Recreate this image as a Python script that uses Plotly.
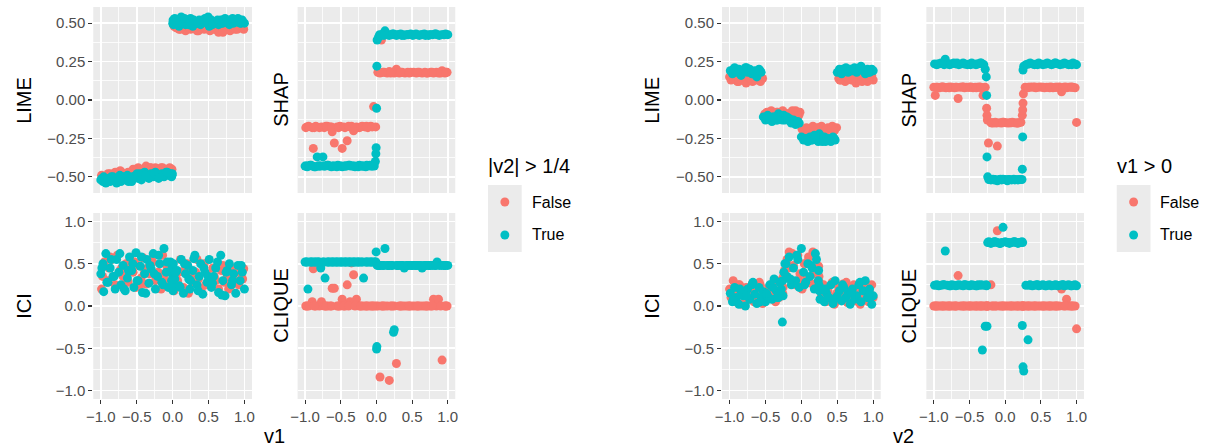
import plotly.graph_objects as go

W, H = 1211, 446
RED, BLUE = "#F8766D", "#00BFC4"

# ---------------- left block: x = v1, colour = |v2| > 1/4 ----------------
v1_f = [-0.99,-0.95,-0.90,-0.885,-0.85,-0.80,-0.77,-0.73,-0.69,-0.65,
        -0.62,-0.59,-0.55,-0.51,-0.48,-0.44,-0.41,-0.37,-0.35,-0.32,
        -0.28,-0.24,-0.20,-0.16,-0.12,-0.08,-0.04,-0.01,0.02,0.05,
        0.07,0.11,0.15,0.18,0.22,0.25,0.28,0.32,0.36,0.40,
        0.44,0.48,0.52,0.56,0.60,0.64,0.68,0.72,0.76,0.80,
        0.84,0.87,0.92,0.96,0.99,
        -0.975,-0.87,-0.71,-0.63,-0.53,-0.46,-0.39,-0.30,-0.22,-0.14,
        -0.06,0.09,0.20,0.34,0.46,0.58,0.70,0.78,0.90,0.975]
lime1_f = [-0.49,-0.50,-0.48,-0.51,-0.49,-0.47,-0.49,-0.46,-0.48,-0.50,
           -0.47,-0.49,-0.45,-0.47,-0.44,-0.46,-0.45,-0.43,-0.46,-0.44,
           -0.45,-0.44,-0.46,-0.44,-0.45,-0.46,-0.44,-0.45,0.48,0.47,
           0.49,0.46,0.48,0.45,0.47,0.46,0.48,0.47,0.45,0.48,
           0.46,0.47,0.45,0.48,0.46,0.44,0.47,0.46,0.48,0.45,
           0.47,0.46,0.48,0.47,0.46,
           -0.50,-0.48,-0.47,-0.49,-0.46,-0.45,-0.47,-0.44,-0.45,-0.44,
           -0.45,0.46,0.48,0.45,0.47,0.46,0.44,0.48,0.46,0.47]
shap1_f = [-0.18,-0.17,-0.18,-0.315,-0.17,-0.18,-0.175,-0.18,-0.17,-0.175,
           -0.207,-0.28,-0.175,-0.17,-0.315,-0.18,-0.265,-0.175,-0.17,-0.20,
           -0.175,-0.18,-0.17,-0.175,-0.18,-0.17,-0.043,-0.175,0.18,0.175,
           0.39,0.18,0.175,0.185,0.18,0.175,0.20,0.175,0.18,0.175,
           0.18,0.18,0.18,0.175,0.18,0.175,0.18,0.175,0.18,0.175,
           0.18,0.175,0.19,0.175,0.18,
           -0.175,-0.18,-0.17,-0.175,-0.18,-0.175,-0.17,-0.18,-0.175,-0.17,
           -0.175,0.18,0.175,0.18,0.175,0.18,0.175,0.18,0.175,0.18]
ici1_f = [0.20,0.52,0.30,0.45,0.55,0.25,0.60,0.42,0.35,0.50,
          0.28,0.55,0.40,0.22,0.48,0.33,0.57,0.26,0.45,0.38,
          0.52,0.30,0.40,0.20,0.35,0.47,0.25,0.42,0.18,0.38,
          0.30,0.55,0.22,0.45,0.15,0.35,0.28,0.40,0.32,0.20,
          0.50,0.38,0.25,0.45,0.30,0.20,0.42,0.28,0.35,0.22,
          0.45,0.30,0.25,0.38,0.44,
          0.35,0.58,0.45,0.30,0.52,0.25,0.40,0.55,0.32,0.60,
          0.28,0.40,0.50,0.55,0.25,0.35,0.48,0.20,0.40,0.32]
clique1_f = [0.0,0.0,0.05,0.44,0.0,0.0,0.05,0.0,0.0,0.0,
             0.21,0.21,0.0,0.0,0.08,0.0,0.25,0.05,0.51,0.37,
             0.08,0.0,0.0,0.0,0.0,0.0,0.0,0.0,0.0,-0.84,
             0.0,0.0,0.0,-0.88,0.0,0.0,-0.68,0.0,0.0,0.0,
             0.0,0.0,0.0,0.0,0.0,0.0,0.0,0.0,0.0,0.08,
             0.0,0.08,-0.64,0.0,0.0,
             0.0,0.0,0.0,0.0,0.0,0.0,0.0,0.0,0.0,0.0,
             0.0,0.0,0.0,0.0,0.0,0.0,0.0,0.0,0.0,0.0]

v1_t = [-1.00,-0.97,-0.96,-0.93,-0.90,-0.87,-0.83,-0.80,-0.78,-0.75,
        -0.72,-0.69,-0.66,-0.63,-0.60,-0.57,-0.54,-0.51,-0.48,-0.45,
        -0.42,-0.39,-0.36,-0.33,-0.30,-0.27,-0.24,-0.21,-0.18,-0.15,
        -0.12,-0.09,-0.06,-0.03,-0.015,-0.008,-0.004,0.002,0.006,0.01,
        0.03,0.06,0.09,0.12,0.15,0.18,0.21,0.24,0.25,0.28,
        0.31,0.34,0.37,0.39,0.42,0.45,0.48,0.51,0.54,0.57,
        0.60,0.64,0.67,0.70,0.73,0.76,0.79,0.82,0.85,0.88,
        0.91,0.94,0.97,1.00,
        -0.985,-0.915,-0.855,-0.815,-0.735,-0.675,-0.615,-0.555,-0.495,-0.435,
        -0.375,-0.315,-0.255,-0.195,-0.135,-0.075,0.045,0.105,0.165,0.225,
        0.295,0.355,0.435,0.495,0.555,0.625,0.685,0.745,0.835,0.955]
lime1_t = [-0.52,-0.53,-0.50,-0.54,-0.51,-0.53,-0.50,-0.52,-0.54,-0.51,
           -0.53,-0.50,-0.52,-0.49,-0.51,-0.53,-0.50,-0.49,-0.51,-0.48,
           -0.50,-0.47,-0.49,-0.51,-0.48,-0.50,-0.47,-0.49,-0.50,-0.48,
           -0.50,-0.47,-0.49,-0.48,-0.50,-0.49,-0.48,0.50,0.52,0.49,
           0.53,0.50,0.48,0.54,0.51,0.49,0.52,0.50,0.53,0.48,
           0.51,0.50,0.52,0.49,0.51,0.53,0.50,0.48,0.52,0.50,
           0.51,0.49,0.52,0.50,0.53,0.51,0.49,0.52,0.50,0.51,
           0.53,0.50,0.52,0.50,
           -0.51,-0.53,-0.50,-0.52,-0.49,-0.51,-0.53,-0.50,-0.48,-0.52,
           -0.49,-0.50,-0.48,-0.51,-0.49,-0.47,0.51,0.50,0.53,0.49,
           0.52,0.50,0.51,0.54,0.49,0.52,0.50,0.51,0.53,0.50]
shap1_t = [-0.43,-0.435,-0.43,-0.425,-0.43,-0.435,-0.37,-0.43,-0.43,-0.37,
           -0.43,-0.425,-0.43,-0.435,-0.43,-0.43,-0.425,-0.43,-0.435,-0.43,
           -0.43,-0.425,-0.43,-0.43,-0.435,-0.43,-0.425,-0.43,-0.43,-0.435,
           -0.43,-0.425,-0.43,-0.43,-0.40,-0.35,-0.31,-0.054,0.22,0.39,
           0.41,0.42,0.43,0.45,0.425,0.42,0.425,0.43,0.425,0.42,
           0.425,0.43,0.425,0.42,0.425,0.425,0.43,0.42,0.425,0.425,
           0.42,0.425,0.43,0.425,0.42,0.425,0.425,0.43,0.425,0.42,
           0.425,0.425,0.43,0.425,
           -0.43,-0.425,-0.435,-0.43,-0.43,-0.425,-0.43,-0.435,-0.43,-0.43,
           -0.425,-0.43,-0.435,-0.43,-0.425,-0.43,0.425,0.42,0.425,0.43,
           0.425,0.42,0.425,0.425,0.43,0.425,0.42,0.425,0.43,0.425]
ici1_t = [0.38,0.50,0.17,0.62,0.28,0.45,0.35,0.20,0.55,0.40,
          0.25,0.48,0.18,0.33,0.58,0.42,0.22,0.63,0.30,0.47,
          0.16,0.38,0.55,0.27,0.44,0.62,0.20,0.35,0.50,0.28,
          0.68,0.40,0.22,0.52,0.30,0.45,0.26,0.36,0.18,0.50,
          0.32,0.42,0.24,0.55,0.15,0.38,0.48,0.20,0.30,0.42,
          0.60,0.25,0.35,0.50,0.14,0.40,0.28,0.55,0.22,0.35,
          0.45,0.16,0.60,0.30,0.12,0.42,0.50,0.25,0.38,0.15,
          0.48,0.30,0.40,0.20,
          0.45,0.28,0.55,0.35,0.62,0.20,0.42,0.50,0.30,0.58,
          0.15,0.48,0.38,0.60,0.25,0.52,0.40,0.22,0.50,0.32,
          0.56,0.18,0.45,0.35,0.27,0.52,0.13,0.40,0.30,0.48]
clique1_t = [0.52,0.52,0.20,0.52,0.52,0.52,0.52,0.52,0.45,0.52,
             0.33,0.52,0.52,0.52,0.52,0.52,0.52,0.52,0.52,0.52,
             0.52,0.52,0.52,0.52,0.52,0.52,0.52,0.52,0.33,0.52,
             0.52,0.52,0.52,0.52,0.52,0.52,0.64,-0.51,-0.48,0.48,
             0.48,0.48,0.48,0.68,0.48,0.48,0.48,-0.31,-0.28,0.48,
             0.48,0.48,0.48,0.45,0.48,0.48,0.48,0.48,0.48,0.48,
             0.48,0.45,0.48,0.48,0.48,0.48,0.48,0.48,0.52,0.48,
             0.48,0.48,0.48,0.48,
             0.52,0.52,0.52,0.52,0.52,0.52,0.52,0.52,0.52,0.52,
             0.52,0.52,0.52,0.52,0.52,0.52,0.48,0.48,0.48,0.48,
             0.48,0.48,0.48,0.48,0.48,0.48,0.48,0.48,0.48,0.48]

# ---------------- right block: x = v2, colour = v1 > 0 ----------------
v2_f = [-1.00,-0.98,-0.95,-0.92,-0.89,-0.86,-0.83,-0.80,-0.77,-0.74,
        -0.71,-0.68,-0.66,-0.63,-0.60,-0.57,-0.54,-0.51,-0.48,-0.45,
        -0.42,-0.39,-0.36,-0.33,-0.31,-0.28,-0.26,-0.255,-0.25,-0.235,
        -0.20,-0.17,-0.14,-0.11,-0.08,-0.05,-0.02,0.01,0.04,0.07,
        0.10,0.13,0.16,0.19,0.22,0.24,0.245,0.25,0.255,0.28,
        0.31,0.34,0.37,0.40,0.43,0.46,0.49,0.52,0.55,0.58,
        0.61,0.64,0.67,0.70,0.73,0.76,0.79,0.82,0.86,0.89,
        0.92,0.95,0.98,1.00,
        -0.965,-0.875,-0.785,-0.695,-0.585,-0.495,-0.405,-0.345,-0.185,-0.125,
        -0.035,0.085,0.175,0.325,0.415,0.535,0.625,0.715,0.845,0.935]
lime2_f = [0.15,0.13,0.16,0.14,0.12,0.15,0.17,0.13,0.11,0.15,
           0.14,0.12,0.16,0.13,0.15,0.12,0.14,-0.09,-0.08,-0.10,
           -0.07,-0.09,-0.11,-0.08,-0.10,-0.09,-0.07,-0.10,-0.08,-0.11,
           -0.09,-0.10,-0.08,-0.09,-0.07,-0.10,-0.08,-0.19,-0.20,-0.18,
           -0.21,-0.19,-0.17,-0.20,-0.18,-0.19,-0.21,-0.18,-0.20,-0.17,
           -0.19,-0.20,-0.18,-0.19,-0.17,-0.20,-0.18,0.14,0.13,0.15,
           0.12,0.16,0.14,0.13,0.15,0.11,0.14,0.16,0.13,0.15,
           0.12,0.14,0.16,0.13,
           0.14,0.12,0.16,0.13,0.15,-0.09,-0.10,-0.08,-0.09,-0.07,
           -0.10,-0.19,-0.18,-0.20,-0.19,0.13,0.15,0.14,0.12,0.15]
shap2_f = [0.083,0.03,0.083,0.08,0.085,0.083,0.08,0.083,0.085,0.083,
           0.08,0.083,0.01,0.083,0.085,0.08,0.083,0.083,0.085,0.08,
           0.083,0.083,0.085,0.08,0.03,0.083,-0.054,-0.10,-0.13,-0.28,
           -0.148,-0.15,-0.145,-0.30,-0.148,-0.15,-0.145,-0.148,-0.15,-0.148,
           -0.145,-0.148,-0.15,-0.148,-0.145,-0.10,-0.065,-0.02,0.04,0.083,
           0.08,0.083,0.085,0.083,0.08,0.083,0.085,0.083,0.08,0.083,
           0.083,0.085,0.08,0.083,0.083,0.085,0.054,0.083,0.08,0.083,
           0.085,0.083,0.08,-0.146,
           0.083,0.085,0.08,0.083,0.085,0.083,0.08,0.083,-0.148,-0.15,
           -0.145,-0.148,-0.15,0.083,0.085,0.083,0.08,0.083,0.085,0.083]
ici2_f = [0.20,0.10,0.30,0.05,0.18,0.25,0.02,0.12,0.22,0.08,
          0.15,0.27,0.05,0.20,0.10,0.24,0.03,0.16,0.08,0.22,
          0.12,0.28,0.05,0.18,0.10,0.30,0.15,0.22,0.35,0.42,
          0.55,0.64,0.30,0.48,0.25,0.60,0.38,0.20,0.50,0.32,
          0.58,0.27,0.64,0.40,0.22,0.47,0.35,0.28,0.20,0.12,
          0.25,0.05,0.18,0.10,0.28,0.02,0.15,0.22,0.08,0.26,
          0.12,0.04,0.20,0.10,0.25,0.06,0.18,0.02,0.14,0.22,
          0.08,0.16,0.25,0.10,
          0.12,0.25,0.05,0.18,0.28,0.10,0.20,0.30,0.45,0.62,
          0.30,0.52,0.38,0.15,0.05,0.22,0.28,0.10,0.20,0.05]
clique2_f = [0.0,0.0,0.0,0.0,0.0,0.0,0.0,0.0,0.0,0.0,
             0.0,0.0,0.36,0.0,0.0,0.0,0.0,0.0,0.0,0.0,
             0.0,0.0,0.0,0.0,0.0,0.0,0.0,0.0,0.0,0.0,
             0.25,0.0,0.0,0.89,0.0,0.0,0.0,0.0,0.0,0.0,
             0.0,0.0,0.0,0.0,0.0,0.0,0.0,0.0,0.0,0.0,
             0.0,0.0,0.0,0.0,0.0,0.0,0.0,0.0,0.0,0.0,
             0.0,0.0,0.0,0.0,0.0,0.0,0.20,0.0,0.08,0.0,
             0.0,0.0,0.0,-0.27,
             0.0,0.0,0.0,0.0,0.0,0.0,0.0,0.0,0.0,0.0,
             0.0,0.0,0.0,0.0,0.0,0.0,0.0,0.0,0.0,0.0]

v2_t = [-0.99,-0.96,-0.93,-0.90,-0.87,-0.84,-0.81,-0.78,-0.75,-0.72,
        -0.69,-0.65,-0.62,-0.59,-0.56,-0.53,-0.50,-0.47,-0.44,-0.41,
        -0.38,-0.35,-0.32,-0.30,-0.28,-0.265,-0.26,-0.255,-0.245,-0.23,
        -0.20,-0.17,-0.14,-0.11,-0.08,-0.05,-0.03,0.00,0.03,0.06,
        0.09,0.12,0.15,0.18,0.21,0.235,0.24,0.245,0.25,0.26,
        0.29,0.32,0.35,0.38,0.41,0.44,0.47,0.50,0.53,0.56,
        0.59,0.62,0.65,0.68,0.71,0.74,0.77,0.80,0.83,0.86,
        0.89,0.92,0.95,0.98,1.00,
        -0.945,-0.855,-0.765,-0.675,-0.575,-0.485,-0.395,-0.335,-0.215,-0.155,
        -0.065,0.045,0.135,0.195,0.335,0.455,0.575,0.695,0.815,0.935]
lime2_t = [0.19,0.17,0.21,0.18,0.20,0.16,0.19,0.21,0.18,0.20,
           0.17,0.19,0.15,0.20,0.18,-0.11,-0.13,-0.10,-0.12,-0.14,
           -0.11,-0.13,-0.09,-0.12,-0.10,-0.13,-0.11,-0.12,-0.10,-0.13,
           -0.11,-0.12,-0.15,-0.13,-0.16,-0.14,-0.15,-0.24,-0.26,-0.25,
           -0.27,-0.24,-0.26,-0.23,-0.25,-0.27,-0.24,-0.26,-0.22,-0.25,
           -0.27,-0.24,-0.26,-0.25,-0.27,-0.24,-0.26,0.18,0.20,0.17,
           0.19,0.21,0.18,0.20,0.19,0.21,0.18,0.20,0.22,0.19,
           0.17,0.20,0.18,0.20,0.19,
           0.20,0.18,0.21,0.17,0.19,-0.12,-0.11,-0.13,-0.12,-0.14,
           -0.15,-0.25,-0.26,-0.24,-0.27,-0.25,0.20,0.19,0.21,0.18]
shap2_t = [0.235,0.23,0.235,0.24,0.235,0.265,0.235,0.23,0.235,0.24,
           0.235,0.23,0.235,0.24,0.235,0.23,0.235,0.24,0.235,0.23,
           0.235,0.24,0.235,0.23,0.20,0.15,0.03,-0.37,-0.50,-0.517,
           -0.52,-0.515,-0.517,-0.525,-0.517,-0.52,-0.515,-0.517,-0.525,-0.517,
           -0.52,-0.515,-0.517,-0.52,-0.517,-0.517,-0.45,-0.24,0.195,0.22,
           0.23,0.235,0.24,0.235,0.23,0.235,0.24,0.235,0.23,0.235,
           0.24,0.235,0.23,0.235,0.24,0.235,0.23,0.235,0.24,0.235,
           0.23,0.235,0.24,0.235,0.23,
           0.235,0.23,0.235,0.24,0.235,0.23,0.235,0.24,-0.517,-0.52,
           -0.515,-0.517,-0.52,-0.517,0.235,0.23,0.235,0.24,0.235,0.23]
ici2_t = [0.15,0.05,0.22,0.10,0.02,0.18,0.12,0.00,0.20,0.08,
          0.25,0.14,0.03,0.22,0.10,0.17,0.05,0.12,0.25,0.08,
          0.32,0.18,0.10,0.28,0.20,-0.19,0.30,0.12,0.40,0.50,
          0.35,0.58,0.25,0.45,0.30,0.55,0.22,0.68,0.40,0.28,
          0.50,0.35,0.45,0.20,0.55,0.30,0.42,0.25,0.18,0.08,
          0.20,0.05,0.15,0.10,0.25,0.03,0.30,0.12,0.18,0.06,
          0.22,0.10,0.15,0.02,0.20,0.08,0.12,0.25,0.05,0.18,
          0.30,0.10,0.20,0.02,0.12,
          0.08,0.20,0.12,0.28,0.05,0.15,0.22,0.10,0.50,0.32,
          0.60,0.25,0.48,0.62,0.20,0.08,0.25,0.15,0.28,0.10]
clique2_t = [0.245,0.25,0.24,0.245,0.25,0.65,0.245,0.24,0.25,0.245,
             0.24,0.25,0.245,0.24,0.25,0.245,0.24,0.25,0.245,0.24,
             0.25,0.245,-0.52,0.245,-0.24,0.25,0.24,-0.24,0.75,0.76,
             0.74,0.75,0.76,0.75,0.74,0.75,0.93,0.76,0.75,0.74,
             0.75,0.76,0.75,0.74,0.75,0.76,-0.23,0.75,-0.72,-0.77,
             0.245,-0.40,0.25,0.24,0.245,0.25,0.24,0.245,0.25,0.24,
             0.245,0.25,0.24,0.245,0.25,0.24,0.245,0.25,0.24,0.245,
             0.25,0.24,0.245,0.25,0.24,
             0.245,0.25,0.24,0.245,0.25,0.245,0.24,0.25,0.75,0.76,
             0.74,0.75,0.76,0.75,0.245,0.25,0.24,0.245,0.25,0.24]

for a in (lime1_f, shap1_f, ici1_f, clique1_f):
    assert len(a) == len(v1_f)
for a in (lime1_t, shap1_t, ici1_t, clique1_t):
    assert len(a) == len(v1_t)
for a in (lime2_f, shap2_f, ici2_f, clique2_f):
    assert len(a) == len(v2_f)
for a in (lime2_t, shap2_t, ici2_t, clique2_t):
    assert len(a) == len(v2_t)

panel_titles = ["LIME", "SHAP", "ICI", "CLIQUE", "LIME", "SHAP", "ICI", "CLIQUE"]
legend_titles = ["|v2| > 1/4", "v1 > 0"]
x_titles = ["v1", "v2"]
group_labels = ["False", "True"]

panels = [
    (v1_f, lime1_f, v1_t, lime1_t),
    (v1_f, shap1_f, v1_t, shap1_t),
    (v1_f, ici1_f, v1_t, ici1_t),
    (v1_f, clique1_f, v1_t, clique1_t),
    (v2_f, lime2_f, v2_t, lime2_t),
    (v2_f, shap2_f, v2_t, shap2_t),
    (v2_f, ici2_f, v2_t, ici2_t),
    (v2_f, clique2_f, v2_t, clique2_t),
]

# ---------------- geometry (pixels) ----------------
col_px = [(87, 247), (293, 452), (721, 881), (927, 1086)]
row_px = [(7, 193), (213, 399)]
pos = [(0, 0), (1, 0), (0, 1), (1, 1), (2, 0), (3, 0), (2, 1), (3, 1)]

def px(x):
    return x / W

def py(y):
    return 1 - y / H

FONT = "Liberation Sans, Arial, sans-serif"
fig = go.Figure()
TICKFONT = dict(family=FONT, size=15, color="#4D4D4D")

for i, (xf, yf, xt, yt) in enumerate(panels):
    n = "" if i == 0 else str(i + 1)
    c, r = pos[i]
    fig.add_trace(go.Scatter(x=xf, y=yf, mode="markers", xaxis="x" + n, yaxis="y" + n,
                             marker=dict(color=RED, size=9, line=dict(width=0)),
                             showlegend=False, hoverinfo="skip"))
    fig.add_trace(go.Scatter(x=xt, y=yt, mode="markers", xaxis="x" + n, yaxis="y" + n,
                             marker=dict(color=BLUE, size=9, line=dict(width=0)),
                             showlegend=False, hoverinfo="skip"))
    bottom = r == 1
    leftcol = c in (0, 2)
    xd = [px(col_px[c][0]), px(col_px[c][1])]
    yd = [py(row_px[r][1]), py(row_px[r][0])]
    fig.layout["xaxis" + n] = dict(
        domain=xd, anchor="y" + n, range=[-1.105, 1.105],
        tickvals=[-1, -0.5, 0, 0.5, 1], tickformat=".1f",
        showticklabels=bottom, ticks="outside" if bottom else "",
        ticklen=4, tickwidth=1.1, tickcolor="#333333", tickfont=TICKFONT,
        showgrid=True, gridcolor="white", gridwidth=1.6, zeroline=False, showline=False,
        minor=dict(tickvals=[-0.75, -0.25, 0.25, 0.75], showgrid=True,
                   gridcolor="white", gridwidth=0.8),
    )
    if r == 0:
        yr, yv, yfmt, ym = [-0.605, 0.605], [-0.5, -0.25, 0, 0.25, 0.5], ".2f", [-0.375, -0.125, 0.125, 0.375]
    else:
        yr, yv, yfmt, ym = [-1.1, 1.1], [-1, -0.5, 0, 0.5, 1], ".1f", [-0.75, -0.25, 0.25, 0.75]
    fig.layout["yaxis" + n] = dict(
        domain=yd, anchor="x" + n, range=yr, tickvals=yv, tickformat=yfmt,
        showticklabels=leftcol, ticks="outside" if leftcol else "",
        ticklen=4, tickwidth=1.1, tickcolor="#333333", tickfont=TICKFONT,
        showgrid=True, gridcolor="white", gridwidth=1.6, zeroline=False, showline=False,
        minor=dict(tickvals=ym, showgrid=True, gridcolor="white", gridwidth=0.8),
    )

annotations = []
TITLEFONT = dict(family=FONT, size=20, color="black")
title_x = [17, 276, 17, 276, 650, 910, 650, 910]
for i, t in enumerate(panel_titles):
    c, r = pos[i]
    yc = (row_px[r][0] + row_px[r][1]) / 2
    annotations.append(dict(text=t, x=px(title_x[i]), y=py(yc), xref="paper", yref="paper",
                            xanchor="center", yanchor="middle", textangle=-90,
                            showarrow=False, font=TITLEFONT))
for k, t in enumerate(x_titles):
    xc = (col_px[2 * k][0] + col_px[2 * k + 1][1]) / 2
    annotations.append(dict(text=t, x=px(xc), y=py(436), xref="paper", yref="paper",
                            xanchor="center", yanchor="middle", showarrow=False, font=TITLEFONT))

shapes = []
leg_x = [485, 1119]
for k in range(2):
    lx = leg_x[k]
    annotations.append(dict(text=legend_titles[k], x=px(lx - 2), y=py(166), xref="paper", yref="paper",
                            xanchor="left", yanchor="middle", showarrow=False,
                            font=dict(family=FONT, size=20, color="black")))
    shapes.append(dict(type="rect", xref="paper", yref="paper", x0=px(lx), x1=px(lx + 34),
                       y0=py(252), y1=py(185), fillcolor="#EBEBEB", line=dict(width=0), layer="below"))
    for j, (lab, col) in enumerate(zip(group_labels, [RED, BLUE])):
        cy = 202 + 33 * j
        cx = lx + 17
        shapes.append(dict(type="circle", xref="paper", yref="paper",
                           x0=px(cx - 4.5), x1=px(cx + 4.5), y0=py(cy + 4.5), y1=py(cy - 4.5),
                           fillcolor=col, line=dict(width=0)))
        annotations.append(dict(text=lab, x=px(lx + 42), y=py(cy), xref="paper", yref="paper",
                                xanchor="left", yanchor="middle", showarrow=False,
                                font=dict(family=FONT, size=16, color="black")))

fig.update_layout(
    width=W, height=H, margin=dict(l=0, r=0, t=0, b=0),
    paper_bgcolor="white", plot_bgcolor="#EBEBEB",
    annotations=annotations, shapes=shapes, showlegend=False,
)
fig.write_html("out.html", config={"displayModeBar": False, "staticPlot": True},
               post_script="document.body.style.margin='0px';document.body.style.overflow='hidden';")
